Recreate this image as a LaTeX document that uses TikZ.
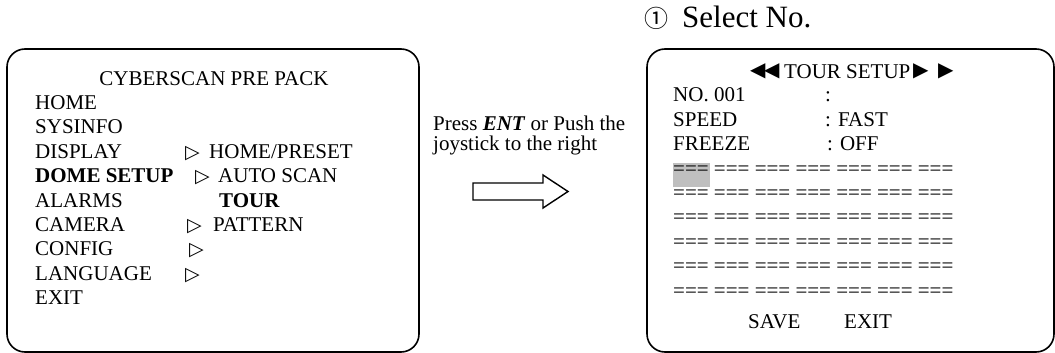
\documentclass[tikz,border=0pt]{standalone}
\usepackage{fontspec}
\setmainfont{Liberation Serif}
\newfontfamily\symf{DejaVu Sans}
\newfontfamily\cjkf{Noto Sans CJK SC}
\begin{document}
\begin{tikzpicture}[x=1pt,y=-1pt,
  txt/.style={inner sep=0pt, anchor=base west, font=\fontsize{21}{24}\selectfont},
  tri/.style={inner sep=0pt, anchor=base west, font=\symf\fontsize{19}{22}\selectfont},
  blk/.style={inner sep=0pt, anchor=west, font=\symf\fontsize{20}{22}\selectfont},
  panel/.style={draw, line width=1.6pt, rounded corners=18pt},
  hilite/.style={fill=black!25, draw=none}]
\useasboundingbox (0,0) rectangle (1055,353);
% left panel
\draw[panel] (7,49) rectangle (419,352);
\node[txt, anchor=base] (lt) at (214,85) {CYBERSCAN PRE PACK};
\node[txt] (l1) at (35,109.4) {HOME};
\node[txt] (l2) at (35,133.8) {SYSINFO};
\node[txt] (l3) at (35,158.2) {DISPLAY};
\node[txt] (l4) at (35,182.6) {\bfseries DOME SETUP};
\node[txt] (l5) at (35,207) {ALARMS};
\node[txt] (l6) at (35,231.4) {CAMERA};
\node[txt] (l7) at (35,255.8) {CONFIG};
\node[txt] (l8) at (35,280.2) {LANGUAGE};
\node[txt] (l9) at (35,304.6) {EXIT};
\node[tri] (t3) at (185,158.2) {▷};
\node[txt] (s3) at (209,158.2) {HOME/PRESET};
\node[tri] (t4) at (195,182.6) {▷};
\node[txt] (s4) at (218,182.6) {AUTO SCAN};
\node[txt] (s5) at (219,207) {\bfseries TOUR};
\node[tri] (t6) at (187,231.4) {▷};
\node[txt] (s6) at (213,231.4) {PATTERN};
\node[tri] (t7) at (189,255.8) {▷};
\node[tri] (t8) at (185,280.2) {▷};
% middle
\node[txt] (m1) at (433,130) {Press \textbf{\textit{ENT}} or Push the};
\node[txt] (m2) at (433,150) {joystick to the right};
\draw[line width=1.4pt, line join=miter] (473,183) -- (543,183) -- (543,175) -- (568,191.5) -- (543,208) -- (543,200) -- (473,200) -- cycle;
% right panel
\node[inner sep=0pt, anchor=base west, font=\cjkf\fontsize{24}{26}\selectfont] (c1) at (644,28) {①};
\node[inner sep=0pt, anchor=base west, font=\fontsize{31}{34}\selectfont] (sel) at (682,28) {Select No.};
\draw[panel] (647,49) rectangle (1054,352);
\node[blk] (tl1) at (750,71.5) {◀};
\node[blk] (tl2) at (764,71.5) {◀};
\node[txt] (tt) at (784,78) {TOUR SETUP};
\node[blk] (tr1) at (913,71.5) {▶};
\node[blk] (tr2) at (938,71.5) {▶};
\node[txt] (r1) at (673,101) {NO. 001};
\node[txt] (r1v) at (825,101) {:};
\node[txt] (r2) at (673,126) {SPEED};
\node[txt] (r2v) at (825,126) {: FAST};
\node[txt] (r3) at (673,150) {FREEZE};
\node[txt] (r3v) at (827,150) {: OFF};
\fill[hilite] (673,163) rectangle (710,187);
\node[txt] (d1) at (673,175) {=== === === === === === ===};
\node[txt] (d2) at (673,199) {=== === === === === === ===};
\node[txt] (d3) at (673,223) {=== === === === === === ===};
\node[txt] (d4) at (673,248) {=== === === === === === ===};
\node[txt] (d5) at (673,272) {=== === === === === === ===};
\node[txt] (d6) at (673,297) {=== === === === === === ===};
\node[txt] (sv) at (748,328) {SAVE};
\node[txt] (ex) at (844,328) {EXIT};
\end{tikzpicture}
\end{document}
